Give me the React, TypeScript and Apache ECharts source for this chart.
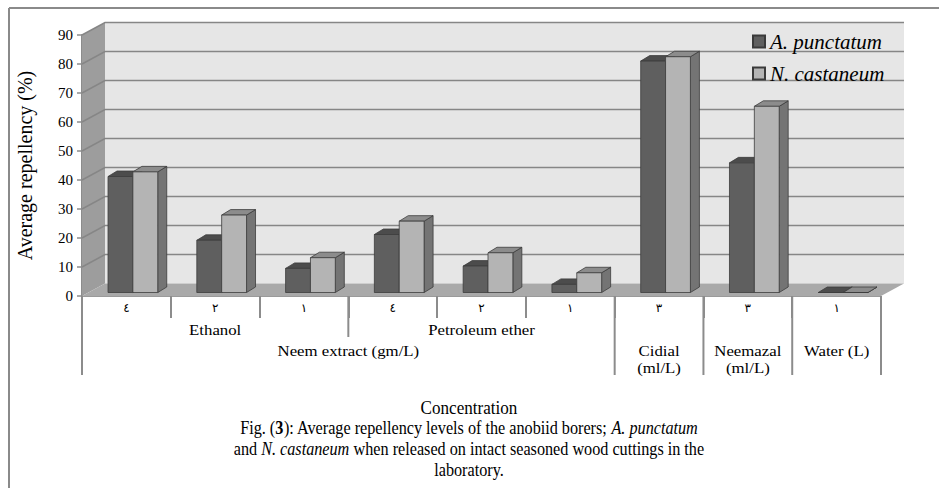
import React, { useEffect, useRef } from "react";
import * as echarts from "echarts";

// ---- data ----
const categories = ["٤", "٢", "١", "٤", "٢", "١", "٣", "٣", "١"];
const punctatum = [40, 18, 8.3, 20, 9.1, 2.8, 79.8, 44.7, 0];
const castaneum = [41.6, 26.7, 12, 24.6, 13.7, 6.8, 81.3, 64.2, 0];
const yTicks = [0, 10, 20, 30, 40, 50, 60, 70, 80, 90];
const seriesNames = ["A. punctatum", "N. castaneum"];

const groupLabels = ["Ethanol", "Petroleum ether", "Neem extract (gm/L)", "Cidial\n(ml/L)", "Neemazal\n(ml/L)", "Water (L)"];
const groupStart = [0, 3, 0, 6, 7, 8];
const groupEnd = [2, 5, 5, 6, 7, 8];
const groupLevel = [1, 1, 2, 2, 2, 2];
const dividerAt = [0, 3, 6, 7, 8, 9];
const dividerLevel = [2, 1, 2, 2, 2, 2];

const captionTitle = "Concentration";
const captionLines = [
  "Fig. ({b|3}): Average repellency levels of the anobiid borers; {i|A. punctatum}",
  "and {i|N. castaneum} when released on intact seasoned wood cuttings in the",
  "laboratory.",
];

// ---- geometry / styles ----
const DX = 23;
const DY = -12.5;
const BOX = 6.5;
const BOY = -3.5;
const BDX = 9;
const BDY = -5.5;
const SERIF = "Liberation Serif";

const barColors = [
  { front: "#5f5f5f", top: "#4c4c4c", side: "#4a4a4a" },
  { front: "#b4b4b4", top: "#8c8c8c", side: "#747474" },
];

function frameInfo(api: any) {
  const bw = api.size([1, 0])[0];
  const p0 = api.coord([0, 0]);
  const left = p0[0] - bw / 2;
  const right = left + bw * categories.length;
  const yb = p0[1];
  const yt = api.coord([0, yTicks[yTicks.length - 1]])[1];
  return { bw, left, right, yb, yt };
}

export default function App() {
  const ref = useRef<HTMLDivElement>(null);

  useEffect(() => {
    if (!ref.current) return;
    const chart = echarts.init(ref.current, undefined, { renderer: "svg" });

    const makeBar = (slot: number, values: number[]) => ({
      type: "custom",
      name: seriesNames[slot],
      z: 5 + slot,
      itemStyle: { color: barColors[slot].front, borderColor: "#3a3a3a", borderWidth: 1 },
      encode: { x: 0, y: 1 },
      data: values.map((v, i) => [i, v]),
      renderItem: (params: any, api: any) => {
        const i = api.value(0);
        const v = api.value(1);
        const bw = api.size([1, 0])[0];
        const barW = bw * 0.28;
        const c = api.coord([i, 0]);
        const topP = api.coord([i, v]);
        const x = c[0] - barW + BOX + slot * barW;
        const base = c[1] + BOY;
        const top = topP[1] + BOY;
        const col = barColors[slot];
        const stroke = { stroke: "#3c3c3c", lineWidth: 0.8 };
        return {
          type: "group",
          children: [
            {
              type: "polygon",
              shape: { points: [[x + barW, top], [x + barW + BDX, top + BDY], [x + barW + BDX, base + BDY], [x + barW, base]] },
              style: { fill: col.side, ...stroke },
            },
            {
              type: "polygon",
              shape: { points: [[x, top], [x + BDX, top + BDY], [x + barW + BDX, top + BDY], [x + barW, top]] },
              style: { fill: col.top, ...stroke },
            },
            {
              type: "rect",
              shape: { x, y: top, width: barW, height: Math.max(base - top, 0) },
              style: { fill: col.front, ...stroke },
            },
          ],
        };
      },
    });

    const option: any = {
      animation: false,
      backgroundColor: "#ffffff",
      textStyle: { fontFamily: SERIF },
      grid: { left: 82, right: 58, top: 35, bottom: 192, containLabel: false },
      legend: {
        orient: "vertical",
        left: 747,
        top: 26,
        itemWidth: 12,
        itemHeight: 12,
        itemGap: 11,
        icon: "rect",
        data: seriesNames,
        textStyle: { fontFamily: SERIF, fontStyle: "italic", fontSize: 21, color: "#000" },
      },
      xAxis: {
        type: "category",
        data: categories,
        boundaryGap: true,
        axisLine: { show: true, lineStyle: { color: "#9a9a9a", width: 1 } },
        axisTick: { show: true, length: 22, lineStyle: { color: "#8c8c8c", width: 2 } },
        axisLabel: { margin: 6, fontFamily: "DejaVu Sans", fontSize: 12, color: "#000" },
        splitLine: { show: false },
      },
      yAxis: {
        type: "value",
        min: 0,
        max: 90,
        interval: 10,
        name: "Average repellency (%)",
        nameLocation: "middle",
        nameGap: 47,
        nameTextStyle: { fontFamily: SERIF, fontSize: 20, color: "#000" },
        axisLine: { show: true, lineStyle: { color: "#8c8c8c", width: 2 } },
        axisTick: { show: true, length: 5, lineStyle: { color: "#8c8c8c", width: 1.5 } },
        axisLabel: { margin: 9, fontFamily: SERIF, fontSize: 15, color: "#000" },
        splitLine: { show: false },
      },
      graphic: [
        { type: "line", shape: { x1: 9, y1: 8, x2: 939, y2: 8 }, style: { stroke: "#8a8a8a", lineWidth: 2 } },
        { type: "line", shape: { x1: 9, y1: 8, x2: 9, y2: 488 }, style: { stroke: "#8a8a8a", lineWidth: 2 } },
        {
          type: "text",
          x: 469,
          y: 399,
          scaleX: 0.95,
          style: { text: captionTitle, fontFamily: SERIF, fontSize: 18, fill: "#000", textAlign: "center", align: "center", textVerticalAlign: "top", verticalAlign: "top" },
        },
        ...captionLines.map((line, k) => ({
          type: "text",
          x: 469,
          y: 419 + k * 21,
          scaleX: 0.9,
          style: {
            text: line,
            fontFamily: SERIF,
            fontSize: 18,
            fill: "#000",
            textAlign: "center",
            align: "center",
            textVerticalAlign: "top",
            verticalAlign: "top",
            rich: {
              i: { fontFamily: SERIF, fontSize: 18, fontStyle: "italic", fill: "#000" },
              b: { fontFamily: SERIF, fontSize: 18, fontWeight: "bold", fill: "#000" },
            },
          },
        })),
      ],
      series: [
        {
          type: "custom",
          name: "walls",
          z: 1,
          silent: true,
          encode: { x: 0, y: 1 },
          data: [[0, 0]],
          renderItem: (params: any, api: any) => {
            const f = frameInfo(api);
            return {
              type: "group",
              children: [
                {
                  type: "polygon",
                  shape: { points: [[f.left + DX, f.yt + DY], [f.right + DX, f.yt + DY], [f.right + DX, f.yb + DY], [f.left + DX, f.yb + DY]] },
                  style: { fill: "#e6e6e6" },
                },
                {
                  type: "polygon",
                  shape: { points: [[f.left, f.yt], [f.left + DX, f.yt + DY], [f.left + DX, f.yb + DY], [f.left, f.yb]] },
                  style: { fill: "#9d9d9d" },
                },
                {
                  type: "polygon",
                  shape: { points: [[f.left, f.yb], [f.left + DX, f.yb + DY], [f.right + DX, f.yb + DY], [f.right, f.yb]] },
                  style: { fill: "#a9a9a9" },
                },
              ],
            };
          },
        },
        {
          type: "custom",
          name: "gridlines",
          z: 2,
          silent: true,
          encode: { x: 0, y: 1 },
          data: yTicks.filter((t) => t > 0).map((t) => [0, t]),
          renderItem: (params: any, api: any) => {
            const f = frameInfo(api);
            const y = api.coord([0, api.value(1)])[1];
            return {
              type: "polyline",
              shape: { points: [[f.left, y], [f.left + DX, y + DY], [f.right + DX, y + DY]] },
              style: { stroke: "#868686", lineWidth: 1.5, fill: "none" },
            };
          },
        },
        {
          type: "custom",
          name: "dividers",
          z: 3,
          silent: true,
          encode: { x: 0, y: 1 },
          data: dividerAt.map((b, k) => [0, b, dividerLevel[k]]),
          renderItem: (params: any, api: any) => {
            const f = frameInfo(api);
            const x = f.left + f.bw * api.value(1);
            const lvl = api.value(2);
            const bottom = f.yb + (lvl === 1 ? 41 : 79);
            return {
              type: "line",
              shape: { x1: x, y1: f.yb, x2: x, y2: bottom },
              style: { stroke: "#8c8c8c", lineWidth: 2 },
            };
          },
        },
        {
          type: "custom",
          name: "groups",
          z: 3,
          silent: true,
          encode: { x: 0, y: 1 },
          data: groupStart.map((s, k) => [0, s, groupEnd[k], groupLevel[k]]),
          renderItem: (params: any, api: any) => {
            const f = frameInfo(api);
            const s = api.value(1);
            const e = api.value(2);
            const lvl = api.value(3);
            const cx = f.left + f.bw * ((s + e + 1) / 2);
            const y = f.yb + (lvl === 1 ? 25 : 46);
            return {
              type: "text",
              x: cx,
              y,
              scaleX: 1.12,
              style: {
                text: groupLabels[params.dataIndex],
                fontFamily: SERIF,
                fontSize: 15,
                lineHeight: 17,
                fill: "#000",
                textAlign: "center",
                align: "center",
                textVerticalAlign: "top",
                verticalAlign: "top",
              },
            };
          },
        },
        makeBar(0, punctatum),
        makeBar(1, castaneum),
      ],
    };

    chart.setOption(option);
    return () => chart.dispose();
  }, []);

  return (
    <div
      ref={ref}
      style={{ position: "fixed", left: 0, top: 0, width: 939, height: 488, background: "#fff" }}
    />
  );
}
